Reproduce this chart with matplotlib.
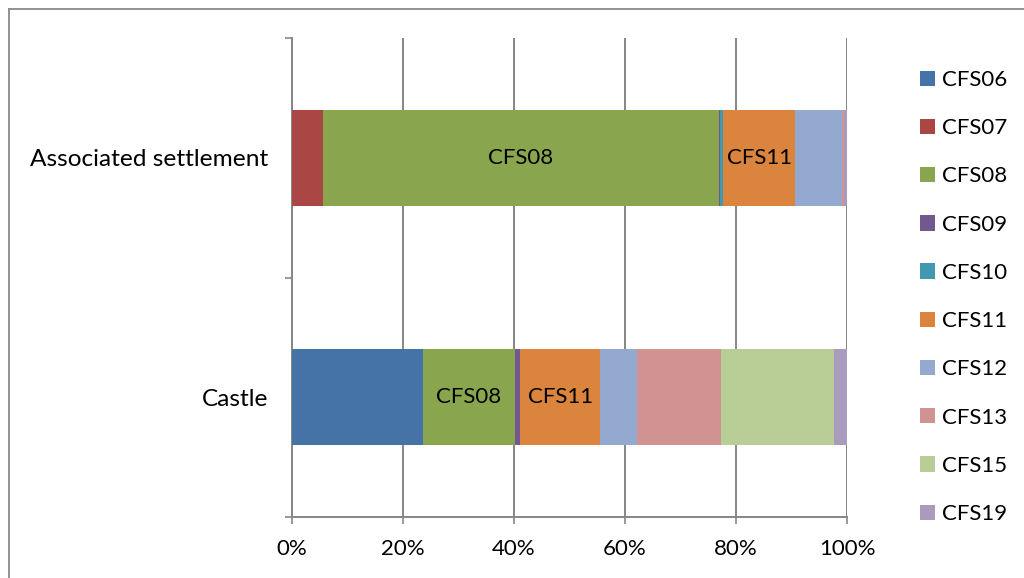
import matplotlib
matplotlib.use("Agg")
import matplotlib.pyplot as plt
from matplotlib.lines import Line2D
import numpy as np

plt.rcParams['font.family'] = ['Lato', 'DejaVu Sans']

# Sites (bottom to top) and fabric groups
sites = ["Castle", "Associated settlement"]
fabrics = ["CFS06", "CFS07", "CFS08", "CFS09", "CFS10",
           "CFS11", "CFS12", "CFS13", "CFS15", "CFS19"]

# Share of each fabric per site (%)
castle = [23.6, 0.0, 16.6, 1.0, 0.0, 14.4, 6.7, 15.1, 20.3, 2.4]
settlement = [0.0, 5.6, 71.2, 0.25, 0.5, 13.0, 8.4, 0.45, 0.0, 0.45]

colors = ["#4572A7", "#AA4643", "#89A54E", "#71588F", "#4198AF",
          "#DB843D", "#93A9CF", "#D19392", "#B9CD96", "#A99BBD"]

# Fabrics that get a label inside their segment
labelled = {"CFS08", "CFS11"}

data = np.array([castle, settlement], dtype=float)
data = data / data.sum(axis=1, keepdims=True) * 100  # 100% stacked

fig = plt.figure(figsize=(10.24, 5.78), dpi=100)
ax = fig.add_axes([292 / 1024, 1 - 517 / 578, 555 / 1024, 479 / 578])

grey = "#868686"
ypos = np.arange(len(sites))
left = np.zeros(len(sites))
handles = []
for j, name in enumerate(fabrics):
    bars = ax.barh(ypos, data[:, j], left=left, height=0.4,
                   color=colors[j], linewidth=0, label=name, zorder=3)
    handles.append(bars)
    if name in labelled:
        ax.bar_label(bars, labels=[name] * len(sites), label_type="center",
                     fontsize=16, color="black", zorder=4)
    left += data[:, j]

ax.set_xlim(0, 100)
ax.set_ylim(-0.5, len(sites) - 0.5)
ax.set_xticks(np.arange(0, 101, 20))
ax.set_xticklabels([f"{v}%" for v in range(0, 101, 20)], fontsize=16)
ax.tick_params(axis="x", direction="out", length=5, width=1.2, color=grey, pad=11)
ax.xaxis.grid(True, color=grey, linewidth=1.4, zorder=0)

ax.set_yticks(np.arange(-0.5, len(sites), 1.0))
ax.set_yticklabels([])
ax.set_yticks(ypos, minor=True)
ax.set_yticklabels(sites, minor=True, fontsize=17.6)
ax.tick_params(axis="y", which="major", direction="out", length=5, width=1.2, color=grey)
ax.tick_params(axis="y", which="minor", length=0, pad=17)

for side in ("top", "right"):
    ax.spines[side].set_visible(False)
for side in ("left", "bottom"):
    ax.spines[side].set_color(grey)
    ax.spines[side].set_linewidth(1.4)

fig.legend(handles=handles, labels=fabrics, loc="upper left",
           bbox_to_anchor=(920 / 1024, 1 - 70 / 578), frameon=False,
           fontsize=16, handlelength=0.68, handleheight=0.68,
           handletextpad=0.3, labelspacing=1.27, borderpad=0, borderaxespad=0)

# Outer chart-area frame
fig.add_artist(Line2D([9 / 1024, 1.0], [1 - 8.5 / 578] * 2, transform=fig.transFigure,
                      color="#8a8a8a", linewidth=1.3))
fig.add_artist(Line2D([9 / 1024] * 2, [1 - 8.5 / 578, 0.0], transform=fig.transFigure,
                      color="#8a8a8a", linewidth=1.3))

fig.savefig("out.png", dpi=100)
